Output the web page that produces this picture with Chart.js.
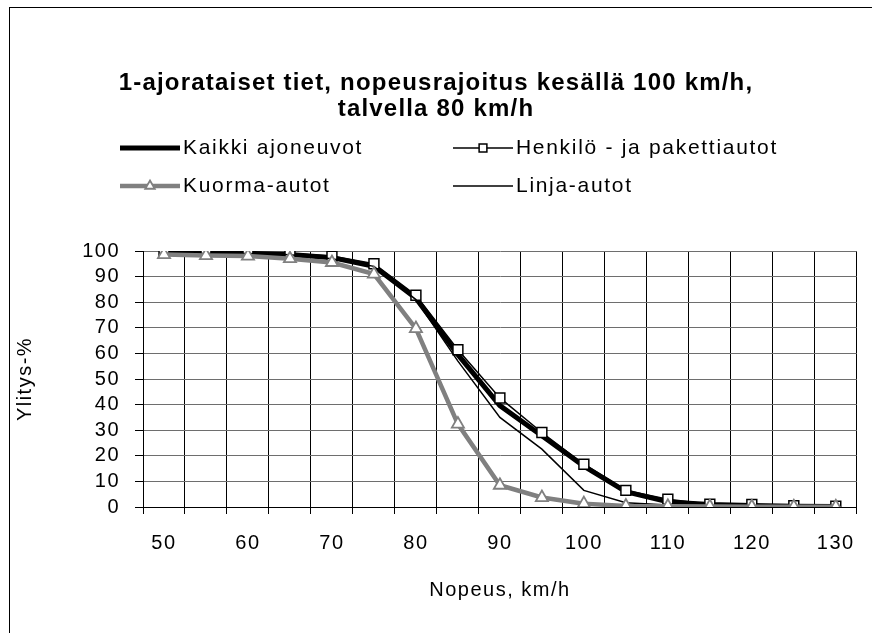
<!DOCTYPE html>
<html>
<head>
<meta charset="utf-8">
<script src="https://cdn.jsdelivr.net/npm/chart.js@4.4.1/dist/chart.umd.min.js"></script>
<style>
  html, body { margin: 0; padding: 0; background: #fff; }
  canvas { display: block; }
</style>
</head>
<body>
<canvas id="chart" width="872" height="633"></canvas>
<script>
// nopeudet (km/h)
const speeds = [50, 55, 60, 65, 70, 75, 80, 85, 90, 95, 100, 105, 110, 115, 120, 125, 130];
// näytetään joka toinen nopeus akselilla
const xTickLabels = ['50', '', '60', '', '70', '', '80', '', '90', '', '100', '', '110', '', '120', '', '130'];

const kaikki = [99.3, 99.2, 99.1, 98.6, 97.4, 94, 81.5, 59.5, 39.6, 27.8, 16, 6, 2, 1, 0.6, 0.3, 0.2];
const henkilo = [99.6, 99.5, 99.4, 99, 98, 95, 82.7, 61.4, 42.6, 29.1, 16.7, 6.5, 3, 1.1, 1, 0.5, 0.3];
const kuorma = [98.6, 98.2, 98, 97, 95.5, 91, 69.7, 32.4, 8.5, 3.7, 1.3, 0.4, 0.3, 0.2, 0.1, 0.1, 0.1];
const linja = [99, 99, 99, 98.5, 97, 94, 81, 57, 35, 22.6, 6.5, 1.7, 0.8, 0.4, 0.3, 0.2, 0.1];

const titleLines = ['1-ajorataiset tiet, nopeusrajoitus kesällä 100 km/h,', 'talvella 80 km/h'];
const FONT = '"Liberation Sans", Arial, sans-serif';

// kirjainväli (Excel-tyylinen leveä teksti) ja kehys
const spacingPlugin = {
    id: 'spacing',
    beforeUpdate(chart) { chart.ctx.letterSpacing = '1.5px'; },
    beforeDraw(chart) {
        const ctx = chart.ctx;
        ctx.letterSpacing = '1.5px';
        ctx.save();
        ctx.fillStyle = '#fff';
        ctx.fillRect(0, 0, chart.width, chart.height);
        ctx.strokeStyle = '#000';
        ctx.lineWidth = 1;
        ctx.strokeRect(9.5, 7.5, 1000, 1000);
        ctx.restore();
    }
};

function drawMarker(ctx, style, r, x, y) {
    if (style === 'rect') {
        const s = Math.SQRT1_2 * r;
        ctx.rect(x - s, y - s, 2 * s, 2 * s);
    } else {
        ctx.moveTo(x, y - r);
        ctx.lineTo(x + r * 0.866, y + r * 0.5);
        ctx.lineTo(x - r * 0.866, y + r * 0.5);
        ctx.closePath();
    }
}

// otsikko ja selite piirretään itse
const titleLegendPlugin = {
    id: 'titleLegend',
    afterDraw(chart) {
        const ctx = chart.ctx;
        ctx.save();
        ctx.fillStyle = '#000';
        ctx.textAlign = 'center';
        ctx.textBaseline = 'middle';
        ctx.letterSpacing = '1.2px';
        ctx.font = 'bold 24px ' + FONT;
        ctx.fillText(titleLines[0], 436, 83);
        ctx.fillText(titleLines[1], 436, 109);

        const items = [
            { ds: 0, x: 120, y: 148 },
            { ds: 1, x: 453, y: 148 },
            { ds: 2, x: 120, y: 186 },
            { ds: 3, x: 453, y: 186 }
        ];
        ctx.letterSpacing = '1.7px';
        ctx.font = '21px ' + FONT;
        ctx.textAlign = 'left';
        items.forEach(it => {
            const ds = chart.data.datasets[it.ds];
            ctx.strokeStyle = ds.borderColor;
            ctx.lineWidth = ds.borderWidth;
            ctx.beginPath();
            ctx.moveTo(it.x, it.y);
            ctx.lineTo(it.x + 60, it.y);
            ctx.stroke();
            if (ds.pointRadius > 0) {
                ctx.fillStyle = ds.pointBackgroundColor;
                ctx.strokeStyle = ds.pointBorderColor;
                ctx.lineWidth = ds.pointBorderWidth;
                ctx.beginPath();
                drawMarker(ctx, ds.pointStyle, ds.pointRadius - 1.5, it.x + 30, it.y);
                ctx.fill();
                ctx.stroke();
            }
            ctx.fillStyle = '#000';
            ctx.fillText(ds.label, it.x + 63, it.y);
        });
        ctx.restore();
    }
};

const ctx = document.getElementById('chart').getContext('2d');
new Chart(ctx, {
    type: 'line',
    data: {
        labels: speeds,
        datasets: [{
            label: 'Kaikki ajoneuvot',
            data: kaikki,
            borderColor: '#000',
            borderWidth: 5,
            pointRadius: 0,
            order: 4
        }, {
            label: 'Henkilö - ja pakettiautot',
            data: henkilo,
            borderColor: '#000',
            borderWidth: 1.5,
            pointStyle: 'rect',
            pointRadius: 7,
            pointBackgroundColor: '#fff',
            pointBorderColor: '#000',
            pointBorderWidth: 1.5,
            order: 3
        }, {
            label: 'Kuorma-autot',
            data: kuorma,
            borderColor: '#808080',
            borderWidth: 4.5,
            pointStyle: 'triangle',
            pointRadius: 7,
            pointBackgroundColor: '#fff',
            pointBorderColor: '#808080',
            pointBorderWidth: 1.8,
            order: 1
        }, {
            label: 'Linja-autot',
            data: linja,
            borderColor: '#000',
            borderWidth: 1.5,
            pointRadius: 0,
            order: 2
        }]
    },
    options: {
        responsive: false,
        devicePixelRatio: 1,
        animation: false,
        layout: { padding: { top: 251, right: 9, left: 0, bottom: 0 } },
        plugins: {
            legend: { display: false },
            tooltip: { enabled: false },
            title: { display: false }
        },
        elements: { line: { tension: 0 } },
        scales: {
            x: {
                type: 'category',
                offset: true,
                afterFit: s => { s.height = 126; },
                grid: { offset: true, color: '#000', lineWidth: 1, tickLength: 7, tickColor: '#000' },
                border: { color: '#000', width: 1 },
                ticks: {
                    autoSkip: false,
                    maxRotation: 0,
                    padding: 17,
                    color: '#000',
                    font: { family: FONT, size: 20 },
                    callback: (v, i) => xTickLabels[i]
                },
                title: {
                    display: true,
                    text: 'Nopeus, km/h',
                    color: '#000',
                    font: { family: FONT, size: 20 },
                    padding: { top: 0, bottom: 31 }
                }
            },
            y: {
                min: 0,
                max: 100,
                afterFit: s => { s.width = 143; },
                grid: { color: '#6e6e6e', lineWidth: 1, tickLength: 8, tickColor: '#000' },
                border: { color: '#000', width: 1 },
                ticks: {
                    stepSize: 10,
                    autoSkip: false,
                    padding: 15,
                    color: '#000',
                    font: { family: FONT, size: 20 }
                },
                title: {
                    display: true,
                    text: 'Ylitys-%',
                    color: '#000',
                    font: { family: FONT, size: 20 },
                    padding: { top: 13, bottom: 0 }
                }
            }
        }
    },
    plugins: [spacingPlugin, titleLegendPlugin]
});
</script>
</body>
</html>
